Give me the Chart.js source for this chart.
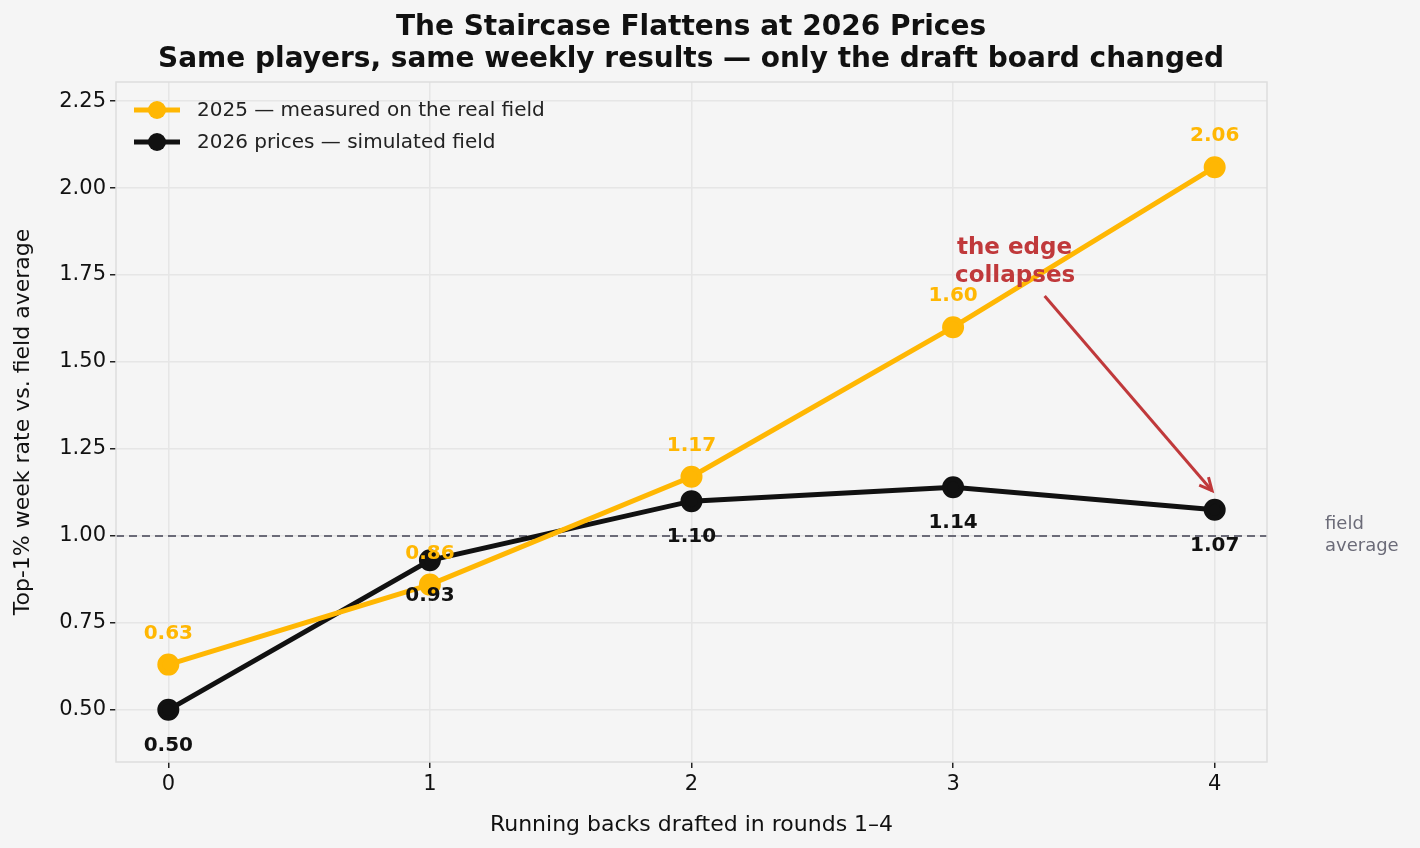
<!DOCTYPE html>
<html><head><meta charset="utf-8">
<script src="https://cdn.jsdelivr.net/npm/chart.js@4"></script>
<style>html,body{margin:0;background:#f5f5f5}#w{width:1420px;height:848px}</style>
</head><body><div id="w"><canvas id="c"></canvas></div>
<script>
const xValues=[0,1,2,3,4];
const real2025=[0.63,0.86,1.17,1.60,2.06];
const sim2026=[0.50,0.93,1.10,1.14,1.075];
const yTicks=[0.50,0.75,1.00,1.25,1.50,1.75,2.00,2.25];
const F='"DejaVu Sans", sans-serif';
const gold='#FFB703', blk='#111111', red='#c0393b';

const deco={id:'deco',
beforeDraw(ch){const c=ch.ctx;c.save();c.fillStyle='#f5f5f5';c.fillRect(0,0,ch.width,ch.height);c.restore();},
afterDatasetsDraw(ch){},
beforeDatasetsDraw(ch){
 const c=ch.ctx,y=ch.scales.y,a=ch.chartArea;
 c.save();
 c.strokeStyle='#6b6b78';c.lineWidth=2;c.setLineDash([8,5]);
 c.beginPath();c.moveTo(a.left,y.getPixelForValue(1));c.lineTo(a.right,y.getPixelForValue(1));c.stroke();
 c.restore();
},
afterDraw(ch){
 const c=ch.ctx,x=ch.scales.x,y=ch.scales.y,a=ch.chartArea;
 c.save();
 c.textAlign='center';c.textBaseline='middle';
 c.font='bold 20px '+F;
 xValues.forEach((v,i)=>{
  c.fillStyle=gold;c.fillText(real2025[i].toFixed(2),x.getPixelForValue(v),y.getPixelForValue(real2025[i])-31);
  c.fillStyle=blk;c.fillText(sim2026[i].toFixed(2),x.getPixelForValue(v),y.getPixelForValue(sim2026[i])+36);
 });
 c.textAlign='left';c.fillStyle='#6b6b78';c.font='18px '+F;
 c.fillText('field',a.right+58,y.getPixelForValue(1)-12);
 c.fillText('average',a.right+58,y.getPixelForValue(1)+10);
 c.fillStyle=red;c.font='bold 23px '+F;
 c.fillText('the edge',957,248);
 c.fillText('collapses',955,276);
 const x1=x.getPixelForValue(3.35),y1=y.getPixelForValue(1.69),x2=x.getPixelForValue(3.99),y2=y.getPixelForValue(1.13);
 c.strokeStyle=red;c.lineWidth=3;c.beginPath();c.moveTo(x1,y1);c.lineTo(x2,y2);c.stroke();
 const ang=Math.atan2(y2-y1,x2-x1);
 c.beginPath();c.moveTo(x2-14*Math.cos(ang-0.45),y2-14*Math.sin(ang-0.45));c.lineTo(x2,y2);c.lineTo(x2-14*Math.cos(ang+0.45),y2-14*Math.sin(ang+0.45));c.stroke();
 c.textAlign='center';c.fillStyle='#111';c.font='bold 28px '+F;
 c.fillText('The Staircase Flattens at 2026 Prices',691,28);
 c.fillText('Same players, same weekly results — only the draft board changed',691,60);
 [[gold,'2025 — measured on the real field',110],[blk,'2026 prices — simulated field',142]].forEach(([col,t,yy])=>{
  c.strokeStyle=col;c.lineWidth=5;c.beginPath();c.moveTo(134,yy);c.lineTo(180,yy);c.stroke();
  c.fillStyle=col;c.beginPath();c.arc(157,yy,9,0,Math.PI*2);c.fill();
  c.fillStyle='#222';c.font='20px '+F;c.textAlign='left';c.fillText(t,197,yy+1);
 });
 c.strokeStyle='#dddddd';c.lineWidth=1.5;c.strokeRect(a.left,a.top,a.right-a.left,a.bottom-a.top);
 c.restore();
}};

new Chart(document.getElementById('c'),{type:'line',
data:{datasets:[
 {data:xValues.map((v,i)=>({x:v,y:real2025[i]})),borderColor:gold,backgroundColor:gold,borderWidth:5,pointRadius:8.5,pointHoverRadius:8.5},
 {data:xValues.map((v,i)=>({x:v,y:sim2026[i]})),borderColor:blk,backgroundColor:blk,borderWidth:5,pointRadius:8.5,pointHoverRadius:8.5}
]},
options:{responsive:true,maintainAspectRatio:false,animation:false,
 layout:{padding:{top:82,right:153,left:6,bottom:6}},
 plugins:{legend:{display:false},tooltip:{enabled:false}},
 scales:{
  x:{type:'linear',min:-0.2,max:4.2,afterBuildTicks(s){s.ticks=xValues.map(v=>({value:v}));},
   afterFit(s){s.height=80;},
   grid:{color:'#e6e6e6',lineWidth:1.5,tickLength:6,tickColor:'#222'},border:{display:false},
   ticks:{color:'#111',font:{family:F,size:21},padding:4},
   title:{display:true,text:'Running backs drafted in rounds 1–4',color:'#111',font:{family:F,size:22},padding:{top:2}}},
  y:{min:0.35,max:2.305,afterBuildTicks(s){s.ticks=yTicks.map(v=>({value:v}));},
   afterFit(s){s.width=110;},
   grid:{color:'#e6e6e6',lineWidth:1.5,tickLength:6,tickColor:'#222'},border:{display:false},
   ticks:{color:'#111',font:{family:F,size:21},padding:4,callback:v=>v.toFixed(2)},
   title:{display:true,text:'Top-1% week rate vs. field average',color:'#111',font:{family:F,size:22},padding:{bottom:2}}}
 }},
plugins:[deco]});
</script></body></html>
